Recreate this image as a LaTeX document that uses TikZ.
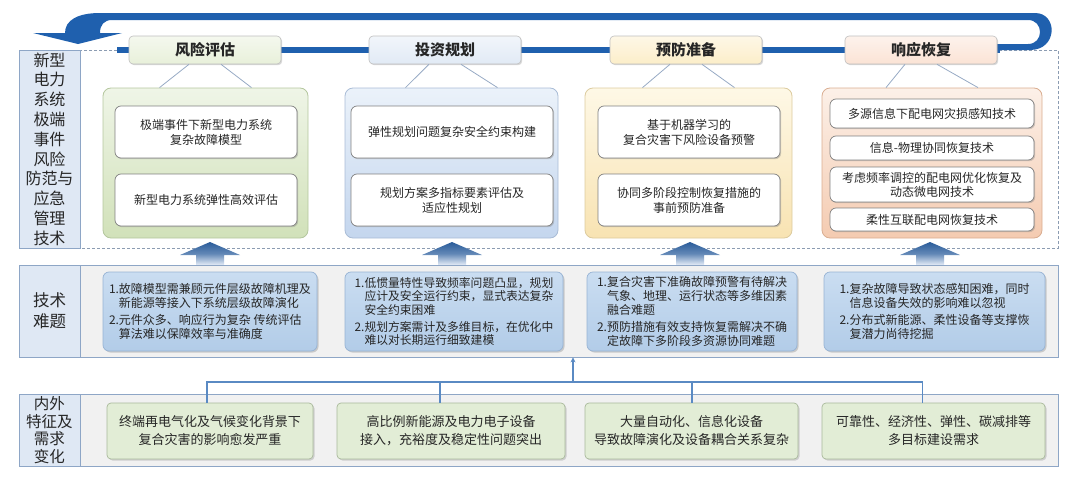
\documentclass[tikz,border=0pt]{standalone}
\usepackage{fontspec}
\setmainfont{Noto Sans CJK SC}
\usetikzlibrary{shadows,arrows.meta}
\definecolor{bandblue}{HTML}{1F60AE}
\definecolor{dashcol}{HTML}{8C9CB2}
\definecolor{cellfill}{HTML}{DFE8F4}
\definecolor{cellborder}{HTML}{8EA6C6}
\definecolor{bandfill}{HTML}{F1F1F1}
\definecolor{tabA}{HTML}{E8F0DA}
\definecolor{tabB}{HTML}{E1EAF5}
\definecolor{tabC}{HTML}{FCEEC9}
\definecolor{tabD}{HTML}{FBE3D5}
\definecolor{panAt}{HTML}{EFF5E7}
\definecolor{panAb}{HTML}{D1E1B9}
\definecolor{panAd}{HTML}{B4C79E}
\definecolor{panBt}{HTML}{EBF2FA}
\definecolor{panBb}{HTML}{C4D6EE}
\definecolor{panBd}{HTML}{A9BCD6}
\definecolor{panCt}{HTML}{FEF8E6}
\definecolor{panCb}{HTML}{F8E3B2}
\definecolor{panCd}{HTML}{DCCB9E}
\definecolor{panDt}{HTML}{FCF0E8}
\definecolor{panDb}{HTML}{F4CBB1}
\definecolor{panDd}{HTML}{D9AD90}
\definecolor{midt}{HTML}{CADDF1}
\definecolor{midb}{HTML}{B2CCE8}
\definecolor{midd}{HTML}{97B3D4}
\definecolor{botfill}{HTML}{E2EDD6}
\definecolor{botd}{HTML}{A9B99B}
\definecolor{treecol}{HTML}{5A8AC3}
\definecolor{callcol}{HTML}{97AAC4}
\definecolor{txt}{HTML}{262626}
\definecolor{arrtop}{HTML}{2A5C9A}
\definecolor{arrbot}{HTML}{E4ECF7}
\begin{document}
\begin{tikzpicture}[x=1pt,y=-1pt,
  labelcell/.style={draw=cellborder, fill=cellfill, line width=0.8pt, inner sep=0pt, align=center, text=txt},
  bandbox/.style={draw=cellborder, fill=bandfill, line width=0.8pt, inner sep=0pt},
  tabbox/.style={rounded corners=4pt, draw=black!25, line width=0.6pt, minimum width=152pt, minimum height=28pt, inner sep=0pt,
     drop shadow={shadow xshift=1.2pt, shadow yshift=-1.2pt, opacity=0.3}, font=\fontsize{15}{18}\selectfont\bfseries, text=black!85},
  panel/.style={rounded corners=8pt, line width=0.8pt, minimum height=150pt, inner sep=0pt},
  wbox/.style={rounded corners=6pt, draw=black!50, fill=white, line width=0.7pt, inner sep=1pt, align=center,
     drop shadow={shadow xshift=1.2pt, shadow yshift=-1.2pt, opacity=0.35}, font=\fontsize{12}{15}\selectfont, text=txt},
  midbox/.style={rounded corners=6pt, draw=midd, top color=midt, bottom color=midb, line width=0.7pt, inner sep=1pt, align=left,
     minimum height=79pt, drop shadow={shadow xshift=1.5pt, shadow yshift=-1.5pt, opacity=0.35}, font=\fontsize{12}{13.8}\selectfont, text=txt},
  botbox/.style={rounded corners=4pt, draw=botd, fill=botfill, line width=0.7pt, inner sep=1pt, align=center,
     minimum height=56pt, drop shadow={shadow xshift=1.5pt, shadow yshift=-1.5pt, opacity=0.3}, font=\fontsize{13}{18}\selectfont, text=txt},
  callout/.style={draw=callcol, line width=0.8pt},
  treeline/.style={draw=treecol, line width=1.6pt}
]
\useasboundingbox (0,0) rectangle (1080,482);

% dashed frame
\draw[dashcol, dash pattern=on 3pt off 2pt, line width=0.9pt] (80,50) rectangle (1058,248);

% big blue loop arrow
\fill[bandblue] (65,33) .. controls (65,20) and (78,13) .. (100,13) -- (1035,13)
  .. controls (1058,13) and (1058,50) .. (1030,50) -- (995,50) -- (995,44) -- (1028,44)
  .. controls (1044,44) and (1044,20) .. (1028,20) -- (112,20)
  .. controls (104,20) and (100,25) .. (100,33) -- (122,33) -- (78,44) -- (33,33) -- cycle;
\fill[bandblue] (117,46.5) rectangle (1000,52.5);

% tabs
\node[tabbox, top color=white!55!tabA, bottom color=tabA] (T1) at (205,50) {风险评估};
\node[tabbox, top color=white!55!tabB, bottom color=tabB] (T2) at (445,50) {投资规划};
\node[tabbox, top color=white!55!tabC, bottom color=tabC] (T3) at (686,50) {预防准备};
\node[tabbox, top color=white!55!tabD, bottom color=tabD] (T4) at (921,50) {响应恢复};

% panels
\node[panel, draw=panAd, top color=panAt, bottom color=panAb, minimum width=205pt] (P1) at (205.5,163) {};
\node[panel, draw=panBd, top color=panBt, bottom color=panBb, minimum width=213pt] (P2) at (451.5,163) {};
\node[panel, draw=panCd, top color=panCt, bottom color=panCb, minimum width=207pt] (P3) at (688.5,163) {};
\node[panel, draw=panDd, top color=panDt, bottom color=panDb, minimum width=220pt] (P4) at (932,163) {};

% callout lines
\foreach \t/\p in {T1/P1,T2/P2,T3/P3,T4/P4}{
  \draw[callout] ([xshift=-16pt]\t.south) -- ([xshift=-46pt]\p.north);
  \draw[callout] ([xshift=16pt]\t.south) -- ([xshift=46pt]\p.north);
}

% panel inner boxes
\node[wbox, minimum width=182pt, minimum height=52pt] (P1a) at (206,132) {极端事件下新型电力系统\\复杂故障模型};
\node[wbox, minimum width=182pt, minimum height=52pt] (P1b) at (206,200) {新型电力系统弹性高效评估};
\node[wbox, minimum width=202pt, minimum height=52pt] (P2a) at (452,132) {弹性规划问题复杂安全约束构建};
\node[wbox, minimum width=202pt, minimum height=52pt] (P2b) at (452,200) {规划方案多指标要素评估及\\适应性规划};
\node[wbox, minimum width=182pt, minimum height=52pt] (P3a) at (689,132) {基于机器学习的\\复合灾害下风险设备预警};
\node[wbox, minimum width=182pt, minimum height=52pt] (P3b) at (689,200) {协同多阶段控制恢复措施的\\事前预防准备};
\node[wbox, minimum width=204pt, minimum height=29pt] (P4a) at (932,113.5) {多源信息下配电网灾损感知技术};
\node[wbox, minimum width=204pt, minimum height=24pt] (P4b) at (932,148) {信息-物理协同恢复技术};
\node[wbox, minimum width=204pt, minimum height=35pt, font=\fontsize{12}{14}\selectfont] (P4c) at (932,184.5) {考虑频率调控的配电网优化恢复及\\动态微电网技术};
\node[wbox, minimum width=204pt, minimum height=23pt] (P4d) at (932,219.5) {柔性互联配电网恢复技术};

% left label (top)
\node[labelcell, minimum width=61pt, minimum height=198pt, font=\fontsize{16}{19.8}\selectfont] (L1) at (49.5,149)
  {新型\\电力\\系统\\极端\\事件\\风险\\防范与\\应急\\管理\\技术};

% up arrows
\foreach \cx in {210,452,690,930}{
  \shade[top color=arrtop, bottom color=arrbot, middle color=arrtop!70!arrbot]
    (\cx-14,265) -- (\cx-14,255) -- (\cx-30,255) -- (\cx,242) -- (\cx+30,255) -- (\cx+14,255) -- (\cx+14,265) -- cycle;
}

% middle band
\node[bandbox, minimum width=978pt, minimum height=92pt] (band2) at (569,311) {};
\node[labelcell, minimum width=61pt, minimum height=92pt, font=\fontsize{16.5}{21}\selectfont] (L2) at (49.5,311) {技术\\难题};
\node[midbox, minimum width=214pt] (M1) at (210,311.5) {1.故障模型需兼顾元件层级故障机理及\\\phantom{1.}新能源等接入下系统层级故障演化\\[3pt]2.元件众多、响应行为复杂 传统评估\\\phantom{1.}算法难以保障效率与准确度};
\node[midbox, minimum width=218pt, font=\fontsize{11.8}{13.6}\selectfont] (M2) at (454,311.5) {1.低惯量特性导致频率问题凸显，规划\\\phantom{1.}应计及安全运行约束，显式表达复杂\\\phantom{1.}安全约束困难\\[3pt]2.规划方案需计及多维目标，在优化中\\\phantom{1.}难以对长期运行细致建模};
\node[midbox, minimum width=210pt] (M3) at (692,311.5) {1.复合灾害下准确故障预警有待解决\\\phantom{1.}气象、地理、运行状态等多维因素\\\phantom{1.}融合难题\\[3pt]2.预防措施有效支持恢复需解决不确\\\phantom{1.}定故障下多阶段多资源协同难题};
\node[midbox, minimum width=221pt] (M4) at (934.5,311.5) {1.复杂故障导致状态感知困难，同时\\\phantom{1.}信息设备失效的影响难以忽视\\[3pt]2.分布式新能源、柔性设备等支撑恢\\\phantom{1.}复潜力尚待挖掘};

% bottom band
\node[bandbox, minimum width=978pt, minimum height=72pt] (band3) at (569,430) {};
\node[labelcell, minimum width=61pt, minimum height=72pt, font=\fontsize{15.5}{17.5}\selectfont] (L3) at (49.5,430) {内外\\特征及\\需求\\变化};
\node[botbox, minimum width=206pt] (B1) at (210,431) {终端再电气化及气候变化背景下\\复合灾害的影响愈发严重};
\node[botbox, minimum width=228pt] (B2) at (451,431) {高比例新能源及电力电子设备\\接入，充裕度及稳定性问题突出};
\node[botbox, minimum width=213pt] (B3) at (691.5,431) {大量自动化、信息化设备\\导致故障演化及设备耦合关系复杂};
\node[botbox, minimum width=223pt] (B4) at (933.5,431) {可靠性、经济性、弹性、碳减排等\\多目标建设需求};

% tree connector
\coordinate (hub) at (573,382);
\coordinate (d1) at ([xshift=-3pt]B1.north);
\coordinate (d2) at ([xshift=-11pt]B2.north);
\coordinate (d3) at ([xshift=0.5pt]B3.north);
\coordinate (d4) at ([xshift=-11pt]B4.north);
\draw[treeline] (d1) |- (hub) -| (d4);
\draw[treeline] (d2) -- (d2 |- hub);
\draw[treeline] (d3) -- (d3 |- hub);
\draw[draw=treecol, line width=1.3pt, -{Stealth[length=5pt,width=5pt]}] (hub) -- (hub |- band2.south);
\end{tikzpicture}
\end{document}
